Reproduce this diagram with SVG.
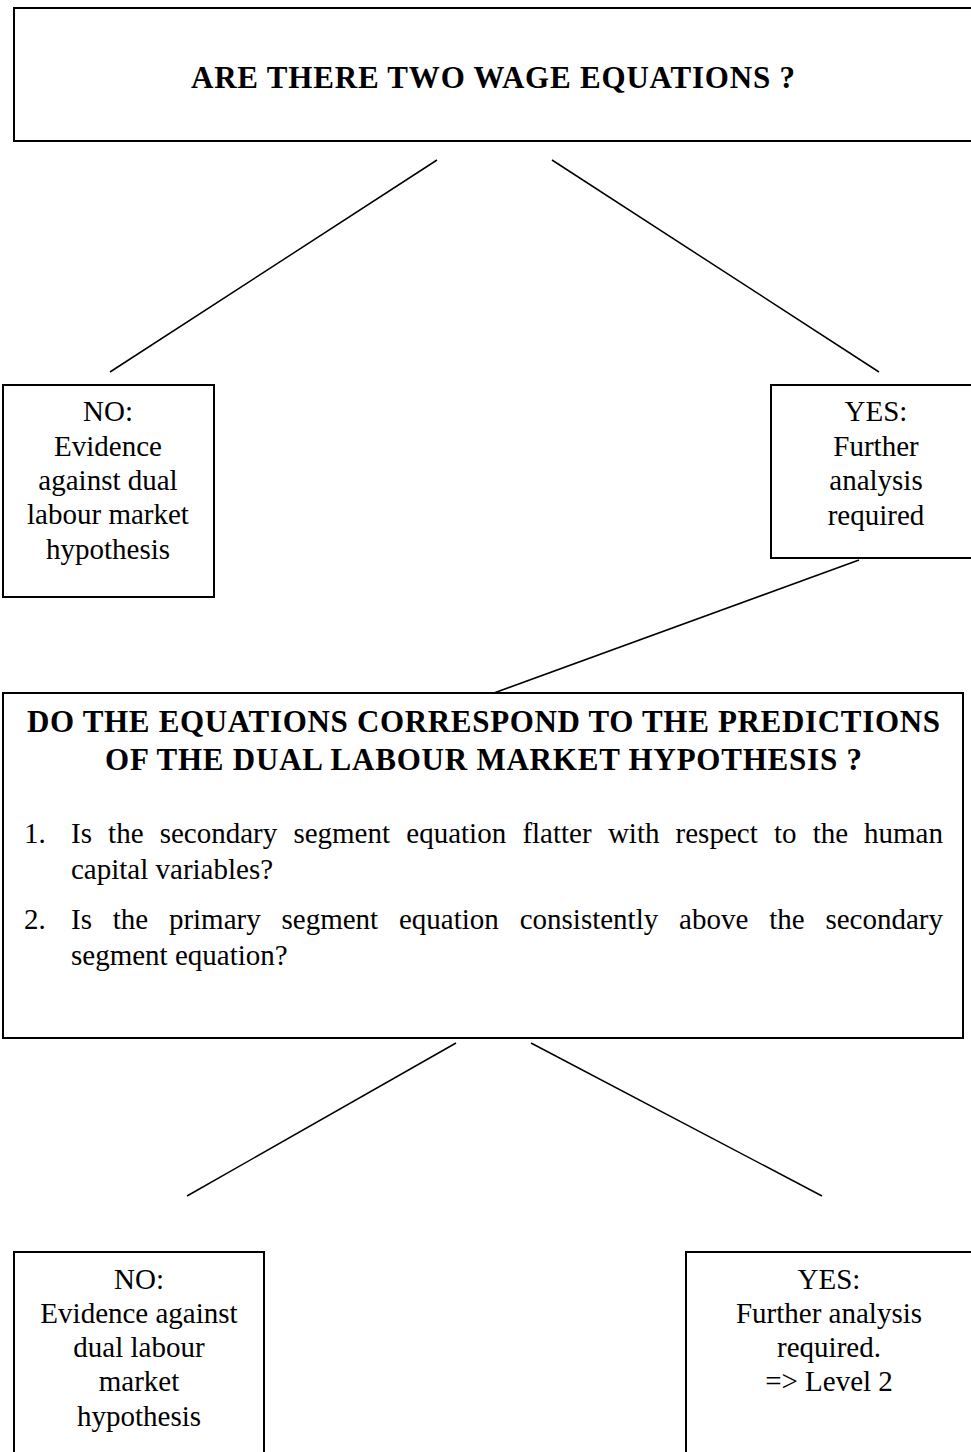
<svg xmlns="http://www.w3.org/2000/svg" width="971" height="1452" viewBox="0 0 971 1452">
<style>
.box{fill:#fff;stroke:#000;stroke-width:2}
.ln{stroke:#000;stroke-width:1.5;fill:none}
.t{font-family:"Liberation Serif","Times New Roman",serif;font-size:29px;fill:#000}
.c{text-anchor:middle}
.b{font-weight:bold;font-size:31px}
</style>
<rect width="971" height="1452" fill="#fff"/>
<g id="connectors">
<line class="ln" x1="437" y1="160" x2="110" y2="372"/>
<line class="ln" x1="552" y1="160" x2="879" y2="372"/>
<line class="ln" x1="859" y1="560" x2="494" y2="693"/>
<line class="ln" x1="456" y1="1043" x2="187" y2="1196"/>
<line class="ln" x1="531" y1="1043" x2="822" y2="1196"/>
</g>
<g id="q1">
<rect class="box" x="14" y="8" width="970" height="133"/>
<text class="t b" x="191" y="88" textLength="604" lengthAdjust="spacing">ARE THERE TWO WAGE EQUATIONS ?</text>
</g>
<g id="no1">
<rect class="box" x="3" y="385" width="211" height="212"/>
<text class="t c" x="108" y="421">NO:</text>
<text class="t c" x="108" y="456">Evidence</text>
<text class="t c" x="108" y="490">against dual</text>
<text class="t c" x="108" y="524">labour market</text>
<text class="t c" x="108" y="559">hypothesis</text>
</g>
<g id="yes1">
<rect class="box" x="771" y="385" width="220" height="173"/>
<text class="t c" x="876" y="421">YES:</text>
<text class="t c" x="876" y="456">Further</text>
<text class="t c" x="876" y="490">analysis</text>
<text class="t c" x="876" y="525">required</text>
</g>
<g id="q2">
<rect class="box" x="3" y="693" width="960" height="345"/>
<text class="t b" x="27" y="732" textLength="913" lengthAdjust="spacing">DO THE EQUATIONS CORRESPOND TO THE PREDICTIONS</text>
<text class="t b" x="105" y="770" textLength="757" lengthAdjust="spacing">OF THE DUAL LABOUR MARKET HYPOTHESIS ?</text>
<text class="t" y="843"><tspan x="24">1.</tspan><tspan x="71">Is</tspan><tspan x="108.1">the</tspan><tspan x="159.7">secondary</tspan><tspan x="293.4">segment</tspan><tspan x="406.3">equation</tspan><tspan x="522.4">flatter</tspan><tspan x="607.9">with</tspan><tspan x="675.6">respect</tspan><tspan x="773.9">to</tspan><tspan x="812.7">the</tspan><tspan x="943" text-anchor="end">human</tspan></text>
<text class="t" x="71" y="879">capital variables?</text>
<text class="t" y="929"><tspan x="24">2.</tspan><tspan x="71">Is</tspan><tspan x="112.7">the</tspan><tspan x="168.9">primary</tspan><tspan x="281.5">segment</tspan><tspan x="399">equation</tspan><tspan x="519.7">consistently</tspan><tspan x="679.1">above</tspan><tspan x="769.2">the</tspan><tspan x="943" text-anchor="end">secondary</tspan></text>
<text class="t" x="71" y="965">segment equation?</text>
</g>
<g id="no2">
<rect class="box" x="14" y="1252" width="250" height="220"/>
<text class="t c" x="139" y="1289">NO:</text>
<text class="t c" x="139" y="1323">Evidence against</text>
<text class="t c" x="139" y="1357">dual labour</text>
<text class="t c" x="139" y="1391">market</text>
<text class="t c" x="139" y="1426">hypothesis</text>
</g>
<g id="yes2">
<rect class="box" x="686" y="1252" width="305" height="220"/>
<text class="t c" x="829" y="1289">YES:</text>
<text class="t c" x="829" y="1323">Further analysis</text>
<text class="t c" x="829" y="1357">required.</text>
<text class="t c" x="829" y="1391">=&gt; Level 2</text>
</g>
</svg>
